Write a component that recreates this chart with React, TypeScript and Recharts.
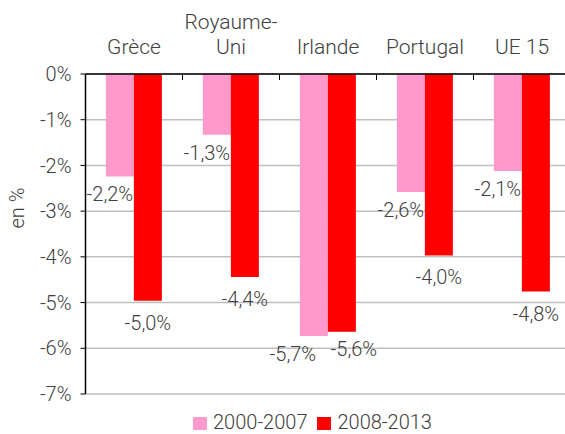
import React from 'react';
import { BarChart, Bar, XAxis, YAxis, CartesianGrid, Legend, LabelList, Label } from 'recharts';

const categories = ['Grèce', 'Royaume-Uni', 'Irlande', 'Portugal', 'UE 15'];
const series2000 = [-2.24, -1.33, -5.73, -2.58, -2.12];
const series2008 = [-4.96, -4.44, -5.64, -3.97, -4.76];
const seriesNames = ['2000-2007', '2008-2013'];
const yTicks = [0, -1, -2, -3, -4, -5, -6, -7];

const PINK = '#FF99CC';
const RED = '#FF0000';
const TEXT = '#404040';
const FONT = 'Roboto, "Liberation Sans", sans-serif';

const CHART_W = 575;
const CHART_H = 434;
const PLOT_LEFT = 85.5;
const PLOT_RIGHT = 570.5;
const HALF_BAND = (PLOT_RIGHT - PLOT_LEFT) / categories.length / 2;

const data = categories.map((c, i) => ({ name: c, a: series2000[i], b: series2008[i] }));

const fmt = (v: number) => `${v.toFixed(1).replace('.', ',')}%`;

const collide = (i: number) => Math.abs(series2000[i] - series2008[i]) < 0.5;

const CatTick = (props: any) => {
  const { x, y, payload } = props;
  const lines: string[] = String(payload.value).split(/(?<=-)/);
  const n = lines.length;
  return (
    <g>
      <line x1={x + HALF_BAND} x2={x + HALF_BAND} y1={y} y2={y + 6} stroke="#000" strokeWidth={1} />
      <text x={x} y={y - 27} textAnchor="middle" fill={TEXT} fontSize={21} fontFamily={FONT} fontWeight={300}>
        {lines.map((l, k) => (
          <tspan key={k} x={x} y={y - 27 - (n - 1 - k) * 25} dy="0.35em">
            {l}
          </tspan>
        ))}
      </text>
    </g>
  );
};

const makeLabel = (series: 'a' | 'b') => (props: any) => {
  const { x, y, width, height, value, index } = props;
  const end = Math.max(y, y + height);
  let dx = 0;
  let dy = 22;
  if (series === 'a') {
    dx = collide(index) ? -21 : -10;
    dy = 18;
  } else if (collide(index)) {
    dx = 12;
    dy = 17;
  }
  return (
    <text
      x={x + width / 2 + dx}
      y={end + dy}
      textAnchor="middle"
      dominantBaseline="central"
      fill={TEXT}
      fontSize={20}
      fontFamily={FONT}
      fontWeight={300}
    >
      {fmt(value)}
    </text>
  );
};

const renderLegend = () => {
  const colors = [PINK, RED];
  return (
    <div style={{ height: 40, position: 'relative' }}>
      <div style={{ display: 'flex', alignItems: 'center', marginTop: 19, height: 18, paddingLeft: 193 }}>
        {seriesNames.map((s, i) => (
          <div key={s} style={{ display: 'flex', alignItems: 'center', marginRight: 10 }}>
            <div style={{ width: 14, height: 13, background: colors[i], marginRight: 6, marginTop: 3 }} />
            <span style={{ fontFamily: FONT, fontWeight: 300, fontSize: 20, color: TEXT, lineHeight: '18px' }}>{s}</span>
          </div>
        ))}
      </div>
    </div>
  );
};

const renderYLabel = () => (
  <text
    x={17}
    y={208}
    transform="rotate(-90, 17, 208)"
    textAnchor="middle"
    dominantBaseline="central"
    fill={TEXT}
    fontSize={20}
    fontFamily={FONT}
    fontWeight={300}
  >
    en %
  </text>
);

export default function App() {
  return (
    <div style={{ position: 'absolute', left: 0, top: 0, width: 565, height: 434, overflow: 'hidden', background: '#fff' }}>
      <BarChart
        width={CHART_W}
        height={CHART_H}
        data={data}
        margin={{ top: 0, right: CHART_W - PLOT_RIGHT, bottom: 0, left: 0 }}
        barCategoryGap="21%"
        barGap={0}
      >
        <CartesianGrid vertical={false} stroke="#bfbfbf" strokeWidth={1.5} />
        <XAxis
          dataKey="name"
          orientation="top"
          height={74}
          axisLine={{ stroke: '#000', strokeWidth: 1.5 }}
          tickLine={false}
          tickSize={0}
          tickMargin={0}
          tick={<CatTick />}
          interval={0}
        />
        <YAxis
          width={PLOT_LEFT}
          domain={[-7, 0]}
          ticks={yTicks}
          interval={0}
          tickFormatter={(v: number) => `${v}%`}
          axisLine={{ stroke: '#000', strokeWidth: 1.5 }}
          tickLine={{ stroke: '#000' }}
          tickSize={5}
          tickMargin={9}
          tick={{ fill: TEXT, fontSize: 20, fontFamily: FONT, fontWeight: 300 }}
        >
          <Label content={renderYLabel} />
        </YAxis>
        <Legend verticalAlign="bottom" height={40} content={renderLegend} wrapperStyle={{ left: 0, width: 565 }} />
        <Bar dataKey="a" name={seriesNames[0]} fill={PINK} isAnimationActive={false}>
          <LabelList dataKey="a" content={makeLabel('a')} />
        </Bar>
        <Bar dataKey="b" name={seriesNames[1]} fill={RED} isAnimationActive={false}>
          <LabelList dataKey="b" content={makeLabel('b')} />
        </Bar>
      </BarChart>
    </div>
  );
}
